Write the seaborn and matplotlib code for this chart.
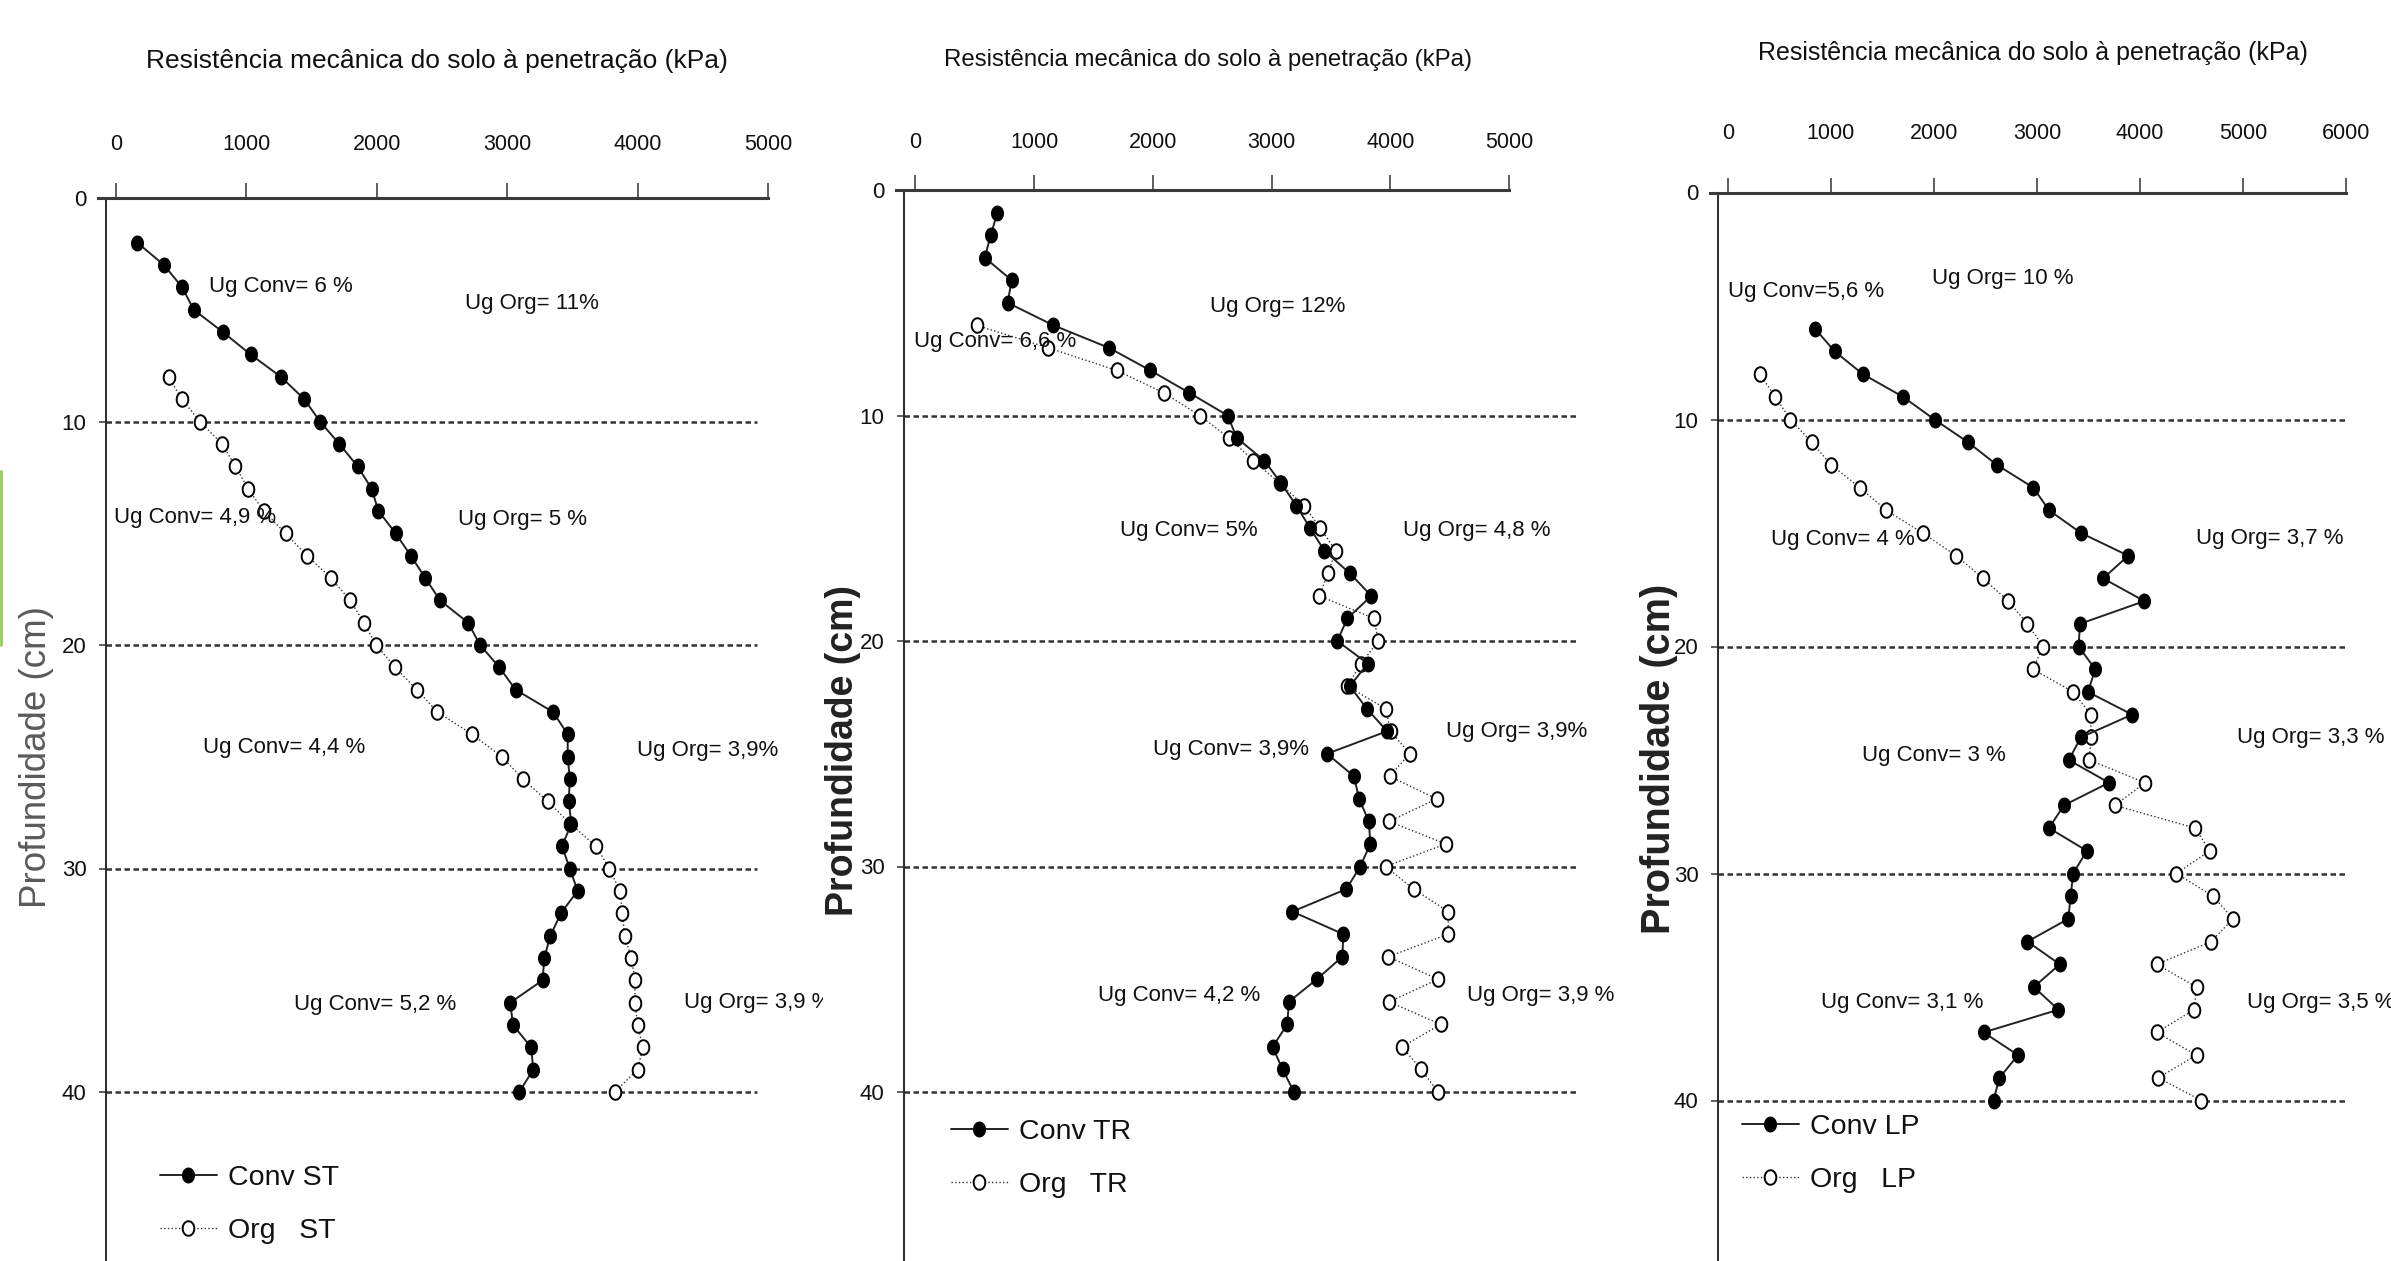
import matplotlib
matplotlib.use("Agg")
import numpy as np
import matplotlib.pyplot as plt
from matplotlib.lines import Line2D
import seaborn as sns

# ----------------------------------
# Data (kPa vs depth in cm)
# ----------------------------------
depth_conv_st = [2, 3, 4, 5, 6, 7, 8, 9, 10, 11, 12, 13, 14, 15, 16, 17, 18, 19, 20, 21,
                 22, 23, 24, 25, 26, 27, 28, 29, 30, 31, 32, 33, 34, 35, 36, 37, 38, 39, 40]
conv_st = [164, 368, 508, 596, 820, 1032, 1264, 1444, 1564, 1712, 1852, 1960, 2012, 2144,
           2260, 2372, 2484, 2700, 2792, 2940, 3064, 3352, 3464, 3464, 3480, 3472, 3492,
           3420, 3480, 3540, 3412, 3332, 3284, 3272, 3024, 3044, 3184, 3200, 3092]

depth_org_st = [8, 9, 10, 11, 12, 13, 14, 15, 16, 17, 18, 19, 20, 21, 22, 23, 24, 25, 26,
                27, 28, 29, 30, 31, 32, 33, 34, 35, 36, 37, 38, 39, 40]
org_st = [404, 504, 644, 812, 916, 1012, 1132, 1300, 1464, 1648, 1796, 1900, 1996, 2140,
          2308, 2464, 2732, 2960, 3120, 3312, 3484, 3680, 3784, 3864, 3884, 3900, 3952,
          3980, 3980, 4000, 4040, 4000, 3824]

depth_conv_tr = [1, 2, 3, 4, 5, 6, 7, 8, 9, 10, 11, 12, 13, 14, 15, 16, 17, 18, 19, 20,
                 21, 22, 23, 24, 25, 26, 27, 28, 29, 30, 31, 32, 33, 34, 35, 36, 37, 38, 39, 40]
conv_tr = [691, 635, 584, 811, 777, 1163, 1631, 1979, 2309, 2631, 2708, 2940, 3080, 3210,
           3326, 3446, 3661, 3841, 3639, 3554, 3811, 3660, 3803, 3974, 3468, 3695, 3738,
           3820, 3833, 3747, 3631, 3176, 3605, 3597, 3382, 3146, 3133, 3009, 3094, 3189]

depth_org_tr = [6, 7, 8, 9, 10, 11, 12, 13, 14, 15, 16, 17, 18, 19, 20, 21, 22, 23, 24,
                25, 26, 27, 28, 29, 30, 31, 32, 33, 34, 35, 36, 37, 38, 39, 40]
org_tr = [515, 1120, 1695, 2094, 2395, 2644, 2846, 3069, 3275, 3412, 3541, 3476, 3403,
          3863, 3900, 3755, 3639, 3961, 4004, 4163, 3996, 4391, 3991, 4468, 3961, 4197,
          4489, 4489, 3983, 4403, 3991, 4425, 4099, 4262, 4403]

depth_conv_lp = [6, 7, 8, 9, 10, 11, 12, 13, 14, 15, 16, 17, 18, 19, 20, 21, 22, 23, 24,
                 25, 26, 27, 28, 29, 30, 31, 32, 33, 34, 35, 36, 37, 38, 39, 40]
conv_lp = [845, 1036, 1308, 1699, 2005, 2329, 2611, 2964, 3117, 3427, 3886, 3642, 4043,
           3418, 3403, 3566, 3494, 3924, 3427, 3308, 3699, 3260, 3117, 3484, 3351, 3327,
           3303, 2907, 3222, 2969, 3208, 2482, 2816, 2635, 2578]

depth_org_lp = [8, 9, 10, 11, 12, 13, 14, 15, 16, 17, 18, 19, 20, 21, 22, 23, 24, 25, 26,
                27, 28, 29, 30, 31, 32, 33, 34, 35, 36, 37, 38, 39, 40]
org_lp = [310, 458, 606, 811, 1002, 1279, 1537, 1890, 2215, 2477, 2721, 2907, 3060, 2959,
          3351, 3523, 3523, 3508, 4048, 3757, 4535, 4678, 4353, 4711, 4902, 4692, 4162,
          4549, 4525, 4162, 4549, 4177, 4597]

# moisture labels per panel
ug_st = ["Ug Conv= 6 %", "Ug Org= 11%", "Ug Conv= 4,9 %", "Ug Org= 5 %",
         "Ug Conv= 4,4 %", "Ug Org= 3,9%", "Ug Conv= 5,2 %", "Ug Org= 3,9 %"]
ug_tr = ["Ug Org= 12%", "Ug Conv= 6,6 %", "Ug Conv= 5%", "Ug Org= 4,8 %",
         "Ug Conv= 3,9%", "Ug Org= 3,9%", "Ug Conv= 4,2 %", "Ug Org= 3,9 %"]
ug_lp = ["Ug Conv=5,6 %", "Ug Org= 10 %", "Ug Conv= 4 %", "Ug Org= 3,7 %",
         "Ug Conv= 3 %", "Ug Org= 3,3 %", "Ug Conv= 3,1 %", "Ug Org= 3,5 %"]

x_ticks_5k = [0, 1000, 2000, 3000, 4000, 5000]
x_ticks_6k = [0, 1000, 2000, 3000, 4000, 5000, 6000]
depth_ticks = [0, 10, 20, 30, 40]
title_txt = "Resistência mecânica do solo à penetração (kPa)"
ylabel_txt = "Profundidade (cm)"

# ----------------------------------
# Figure setup
# ----------------------------------
sns.set_style("white")
plt.rcParams["font.family"] = ["Liberation Sans", "DejaVu Sans"]
W, H = 2391, 1261
fig = plt.figure(figsize=(W / 100, H / 100), dpi=100)
fig.patch.set_facecolor("white")

# slightly tall round marker, like the scanned figure
ang = np.linspace(0, 2 * np.pi, 33)
oval = list(zip(0.8 * np.cos(ang), np.sin(ang)))

# pixel layout of each panel: y-axis x, x=0 px, px per 1000 kPa, top spine y, px per cm
panels = [
    dict(conv=(conv_st, depth_conv_st), org=(org_st, depth_org_st), tag="ST", ug=ug_st,
         ticks=x_ticks_5k, axis_px=106, x0=116, ppk=130.4, top=198, ppcm=22.35,
         right=823, grid_end=757,
         ug_pos=[(713, 3.94), (2676, 4.74), (-15, 14.3), (2622, 14.4),
                 (667, 24.6), (3995, 24.7), (1365, 36.1), (4356, 36.0)],
         title_xy=(437, 61), title_fs=19, ylab_xy=(37, 757), ylab_bold=False, ylab_fs=26.5,
         leg_xy=(160, 1165), tick_pad=20),
    dict(conv=(conv_tr, depth_conv_tr), org=(org_tr, depth_org_tr), tag="TR", ug=ug_tr,
         ticks=x_ticks_5k, axis_px=904, x0=915.4, ppk=118.7, top=190, ppcm=22.55,
         right=1660, grid_end=1577,
         ug_pos=[(2482, 5.15), (-12, 6.7), (1724, 15.1), (4107, 15.1),
                 (2005, 24.8), (4471, 24.0), (1538, 35.7), (4648, 35.7)],
         title_xy=(1208, 60), title_fs=17.3, ylab_xy=(843, 751), ylab_bold=True, ylab_fs=27,
         leg_xy=(951, 1119), tick_pad=16),
    dict(conv=(conv_lp, depth_conv_lp), org=(org_lp, depth_org_lp), tag="LP", ug=ug_lp,
         ticks=x_ticks_6k, axis_px=1718, x0=1728, ppk=103.0, top=192.5, ppcm=22.7,
         right=W, grid_end=2348,
         ug_pos=[(0, 4.35), (1980, 3.8), (417, 15.3), (4544, 15.25),
                 (1301, 24.8), (4942, 24.0), (903, 35.7), (5040, 35.7)],
         title_xy=(2033, 53), title_fs=18, ylab_xy=(1659, 759), ylab_bold=True, ylab_fs=28.5,
         leg_xy=(1742, 1114), tick_pad=24),
]

ink = "#111111"

for p in panels:
    left, right, top = p["axis_px"], p["right"], p["top"]
    ax = fig.add_axes([left / W, 0, (right - left) / W, 1 - top / H])
    ax.set_facecolor("none")

    x_of = lambda px: (px - p["x0"]) / p["ppk"] * 1000
    xl, xr = x_of(left), x_of(right)
    ybot = (H - top) / p["ppcm"]

    cv, cd = p["conv"]
    ov, od = p["org"]
    sns.lineplot(x=cv, y=cd, ax=ax, sort=False, estimator=None, color="#222222",
                 lw=1.4, marker=oval, ms=10.5, mfc="black", mec="black", mew=1,
                 legend=False, zorder=4)
    sns.lineplot(x=ov, y=od, ax=ax, sort=False, estimator=None, color="#333333",
                 lw=1.0, linestyle=":", marker=oval, ms=10.5, mfc="white", mec="black",
                 mew=1.4, legend=False, zorder=3)

    ax.hlines(depth_ticks[1:], xmin=xl, xmax=x_of(p["grid_end"]), colors="#333333",
              linestyles=(0, (2.2, 1.4)), lw=1.8, zorder=1)

    ax.set_xlim(xl, xr)
    ax.set_ylim(ybot, 0)
    ax.xaxis.tick_top()
    ax.set_xticks(p["ticks"])
    ax.set_yticks(depth_ticks)
    ax.set_xlabel("")
    ax.set_ylabel("")

    for s in ["bottom", "right"]:
        ax.spines[s].set_visible(False)
    ax.spines["top"].set_visible(True)
    ax.spines["top"].set_bounds(x_of(left - 8), p["ticks"][-1])
    ax.spines["top"].set_linewidth(2.2)
    ax.spines["top"].set_color("#3a3a3a")
    ax.spines["left"].set_linewidth(1.4)
    ax.spines["left"].set_color("#2a2a2a")

    ax.tick_params(axis="x", top=True, bottom=False, direction="out", length=11,
                   width=1.1, color="#333333", pad=p["tick_pad"], labelsize=15.5,
                   labelcolor=ink)
    ax.tick_params(axis="y", left=True, direction="out", length=5, width=1.1,
                   color="#333333", pad=9, labelsize=16, labelcolor=ink)

    for txt, (tx, ty) in zip(p["ug"], p["ug_pos"]):
        ax.text(tx, ty, txt, fontsize=16, color=ink, ha="left", va="center",
                clip_on=True, zorder=5)

    handles = [
        Line2D([], [], color="#222222", lw=1.4, marker=oval, ms=10.5, mfc="black",
               mec="black"),
        Line2D([], [], color="#333333", lw=1.0, linestyle=":", marker=oval, ms=10.5,
               mfc="white", mec="black", mew=1.4),
    ]
    lx, ly = p["leg_xy"]
    ax.legend(handles, [f"Conv {p['tag']}", f"Org   {p['tag']}"], loc="upper left",
              bbox_to_anchor=(lx / W, 1 - ly / H), bbox_transform=fig.transFigure,
              frameon=False, fontsize=20.5, handlelength=2.0, handletextpad=0.4,
              labelspacing=0.95, borderpad=0, borderaxespad=0, numpoints=1,
              labelcolor=ink)

    tx, ty = p["title_xy"]
    fig.text(tx / W, 1 - ty / H, title_txt, ha="center", va="center",
             fontsize=p["title_fs"], color=ink)

    yx, yy = p["ylab_xy"]
    if p["ylab_bold"]:
        fig.text(yx / W, 1 - yy / H, ylabel_txt, rotation=90, ha="center", va="center",
                 fontsize=p["ylab_fs"], fontweight="bold", color="#222222")
    else:
        fig.text(yx / W, 1 - yy / H, ylabel_txt, rotation=90, ha="center", va="center",
                 fontsize=p["ylab_fs"], color="#5a5a5a")

# green slide accent at left edge
fig.add_artist(Line2D([1 / W, 1 / W], [1 - 471 / H, 1 - 645 / H], color="#92d050",
                      lw=2, transform=fig.transFigure))

fig.savefig("out.png", dpi=100, facecolor="white")
